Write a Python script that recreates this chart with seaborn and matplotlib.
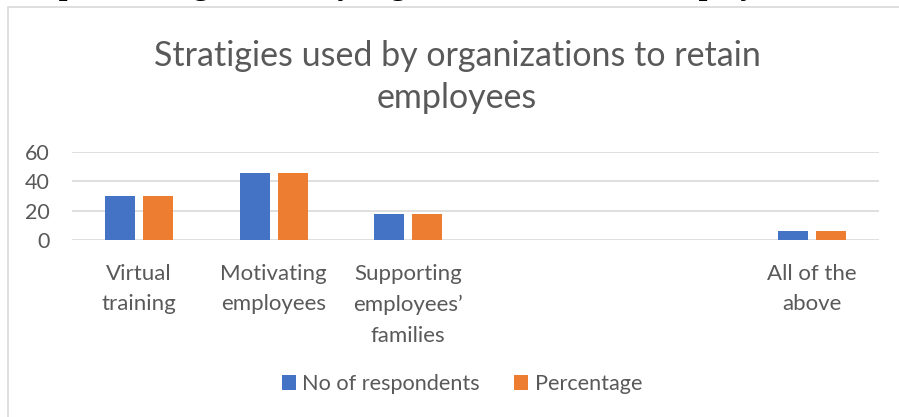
import matplotlib
matplotlib.use("Agg")
import matplotlib.pyplot as plt
from matplotlib.patches import Rectangle
import pandas as pd
import seaborn as sns

# Chart content
title = "Stratigies used by organizations to retain\nemployees"
caption = "Graph: Strategies used by organization to retain employees due to COVID-19"
categories = ["Virtual\ntraining", "Motivating\nemployees",
              "Supporting\nemployees’\nfamilies", "All of the\nabove"]
respondents = [30, 46, 18, 6]
percentage = [30, 46, 18, 6]
series_names = ["No of respondents", "Percentage"]
y_ticks = [0, 20, 40, 60]

# Two unused slots sit between the third and the last category
slots = categories[:3] + ["", " "] + categories[3:]

df = pd.DataFrame({
    "category": categories * 2,
    "value": respondents + percentage,
    "series": [series_names[0]] * len(categories) + [series_names[1]] * len(categories),
})

sns.set_theme(style="white")
plt.rcParams["font.family"] = ["Lato", "DejaVu Sans"]

text_color = "#595959"
grid_color = "#D9D9D9"
palette = {series_names[0]: "#4472C4", series_names[1]: "#ED7D31"}

fig = plt.figure(figsize=(8.99, 4.17), dpi=100)
ax = fig.add_axes([72 / 899, 1 - 240 / 417, (879 - 72) / 899, (240 - 152) / 417])

sns.barplot(data=df, x="category", y="value", hue="series", order=slots,
            hue_order=series_names, palette=palette, width=0.565, gap=0.21,
            linewidth=0, saturation=1, ax=ax, legend=True, errorbar=None)

ax.set_ylim(0, 60)
ax.set_xlim(-0.5, len(slots) - 0.5)
ax.set_yticks(y_ticks)
ax.set_yticklabels([str(t) for t in y_ticks])
ax.set_xlabel("")
ax.set_ylabel("")
for s in ax.spines.values():
    s.set_visible(False)
ax.yaxis.grid(True, color=grid_color, linewidth=1.2)
ax.set_axisbelow(True)
ax.tick_params(axis="y", length=0, pad=16, labelsize=15.5, labelcolor=text_color)
ax.tick_params(axis="x", length=0, pad=17, labelsize=16, labelcolor=text_color)
for lbl in ax.get_xticklabels():
    lbl.set_linespacing(1.68)

leg = ax.legend(loc="center", bbox_to_anchor=(462 / 899, 1 - 384 / 417),
                bbox_transform=fig.transFigure, ncol=2, frameon=False,
                fontsize=15.6, handlelength=0.65, handleheight=0.65,
                handletextpad=0.3, columnspacing=1.6)
for t in leg.get_texts():
    t.set_color(text_color)

fig.text(457 / 899, 1 - 77 / 417, title, ha="center", va="center",
         fontsize=24.5, color=text_color, linespacing=1.35)

# Chart frame (left and top edges fall inside the canvas)
fig.add_artist(Rectangle((8 / 899, -0.2), 1.2, 1.2 - 7 / 417,
                         transform=fig.transFigure, fill=False,
                         edgecolor=grid_color, linewidth=1.2))

# Caption line running off the top edge
fig.text(5 / 899, 1 + 6 / 417, caption, ha="left", va="baseline",
         fontsize=22.5, fontweight="bold", color="black",
         family=["Liberation Serif", "DejaVu Serif"])

fig.savefig("out.png", dpi=100)
